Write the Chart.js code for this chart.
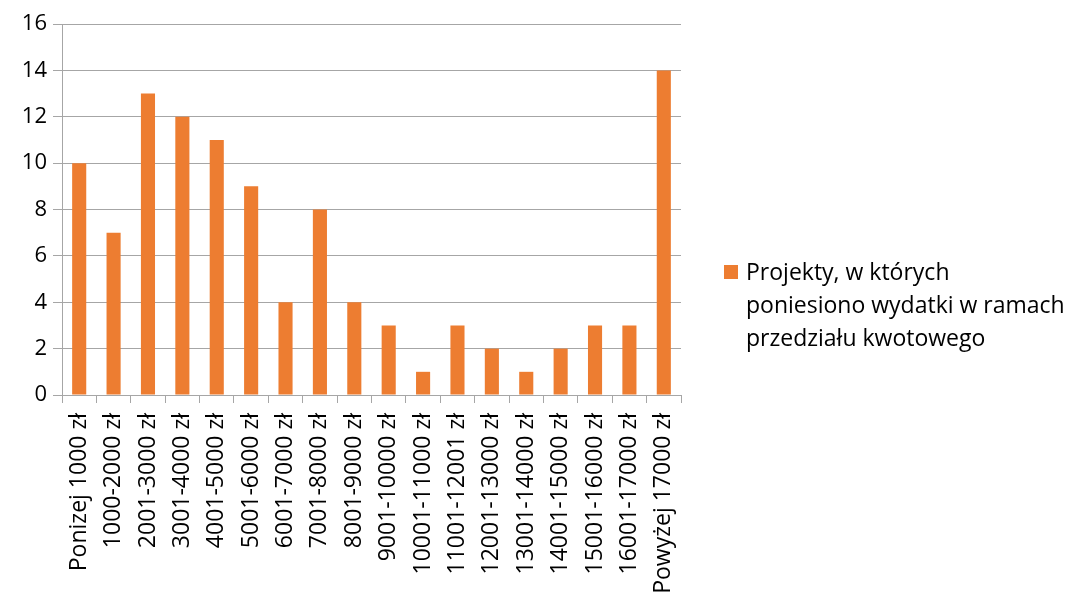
<!DOCTYPE html>
<html><head><meta charset="utf-8">
<script src="https://cdn.jsdelivr.net/npm/chart.js@4.4.1/dist/chart.umd.min.js"></script>
<style>html,body{margin:0;padding:0;background:#fff}#wrap{width:1071px;height:596px}</style>
</head><body><div id="wrap"><canvas id="c" width="1071" height="596"></canvas></div>
<script>
const categories = ["Ponizej 1000 zł","1000-2000 zł","2001-3000 zł","3001-4000 zł","4001-5000 zł","5001-6000 zł","6001-7000 zł","7001-8000 zł","8001-9000 zł","9001-10000 zł","10001-11000 zł","11001-12001 zł","12001-13000 zł","13001-14000 zł","14001-15000 zł","15001-16000 zł","16001-17000 zł","Powyżej 17000 zł"];
const values = [10,7,13,12,11,9,4,8,4,3,1,3,2,1,2,3,3,14];
const seriesLabel = ["Projekty, w których","poniesiono wydatki w ramach","przedziału kwotowego"];
const yTicks = [0,2,4,6,8,10,12,14,16];

const FONT = "'Open Sans', sans-serif";
const legendPlugin = {
  id: 'sideLegend',
  afterDraw(chart) {
    const ctx = chart.ctx;
    ctx.save();
    ctx.fillStyle = '#ED7D31';
    ctx.fillRect(724, 265, 14, 14);
    ctx.fillStyle = '#000';
    ctx.font = '23px ' + FONT;
    ctx.textBaseline = 'alphabetic';
    ctx.textAlign = 'left';
    const lines = chart.data.datasets[0].label.split('\n');
    lines.forEach((l, i) => ctx.fillText(l, 746, 280 + i * 33));
    ctx.restore();
  }
};

new Chart(document.getElementById('c'), {
  type: 'bar',
  data: {
    labels: categories,
    datasets: [{
      label: seriesLabel.join('\n'),
      data: values,
      backgroundColor: '#ED7D31',
      borderWidth: 0,
      barPercentage: 0.41,
      categoryPercentage: 1.0
    }]
  },
  options: {
    responsive: false,
    animation: false,
    layout: { padding: { top: 24, right: 390, left: 0, bottom: 0 } },
    plugins: { legend: { display: false }, tooltip: { enabled: false } },
    scales: {
      x: {
        grid: { display: true, drawOnChartArea: false, drawTicks: true, tickLength: 8, color: '#A6A6A6', offset: true },
        border: { display: true, color: '#A6A6A6', width: 1 },
        ticks: { color: '#000', font: { family: FONT, size: 23 }, minRotation: 90, maxRotation: 90, autoSkip: false, padding: 10 },
        afterFit(s) { s.height = 201; }
      },
      y: {
        min: 0, max: 16,
        afterBuildTicks(s) { s.ticks = yTicks.map(v => ({ value: v })); },
        grid: { color: '#A6A6A6', tickLength: 9, drawTicks: true },
        border: { display: true, color: '#A6A6A6', width: 1 },
        ticks: { color: '#000', font: { family: FONT, size: 22 }, padding: 6 },
        afterFit(s) { s.width = 62; }
      }
    }
  },
  plugins: [legendPlugin]
});
</script></body></html>
